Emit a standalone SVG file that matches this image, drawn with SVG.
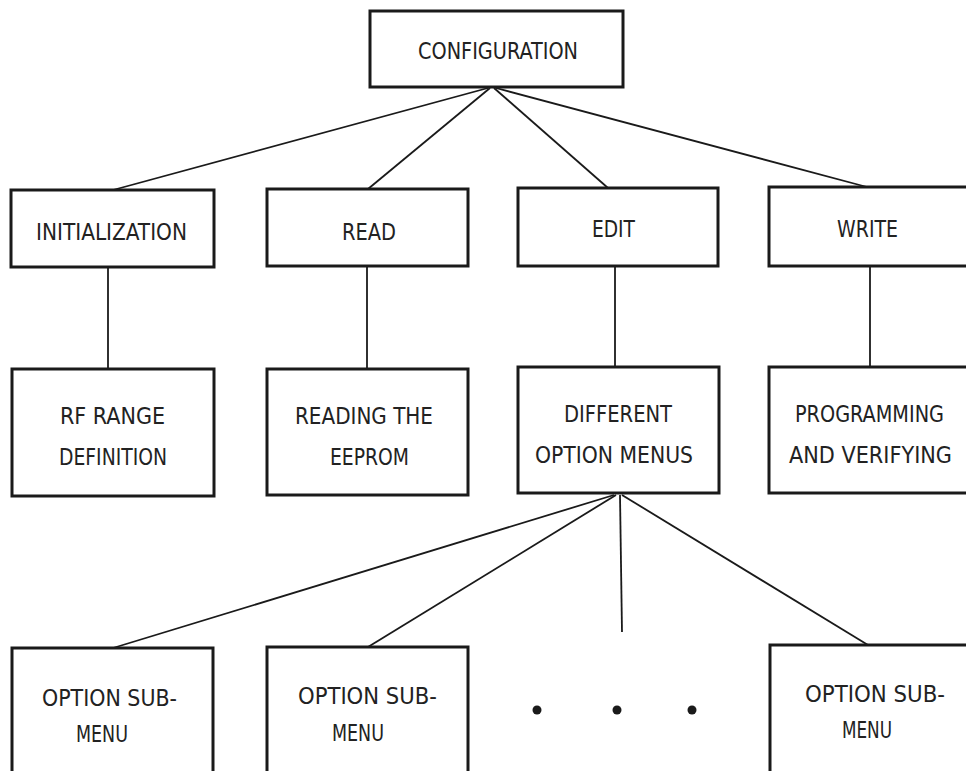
<svg xmlns="http://www.w3.org/2000/svg" width="966" height="771" viewBox="0 0 966 771">
<style>
.box{fill:#fff;stroke:#1a1a1a;stroke-width:3}
.ln{stroke:#1a1a1a;stroke-width:1.8;fill:none}
text{font-family:"DejaVu Sans Condensed","DejaVu Sans",sans-serif;font-size:23px;fill:#222;}
.dot{fill:#1a1a1a}
</style>
<rect width="966" height="771" fill="#fff"/>
<g id="connectors">
<line class="ln" x1="488" y1="88" x2="113" y2="190"/>
<line class="ln" x1="490" y1="88" x2="368" y2="189"/>
<line class="ln" x1="494" y1="88" x2="608" y2="188"/>
<line class="ln" x1="496" y1="88" x2="867" y2="187"/>
<line class="ln" x1="108" y1="267" x2="108" y2="369"/>
<line class="ln" x1="367" y1="266" x2="367" y2="369"/>
<line class="ln" x1="615" y1="266" x2="615" y2="367"/>
<line class="ln" x1="870" y1="266" x2="870" y2="367"/>
<line class="ln" x1="614" y1="495" x2="113" y2="648"/>
<line class="ln" x1="616" y1="495" x2="368" y2="647"/>
<line class="ln" x1="620" y1="495" x2="622" y2="632"/>
<line class="ln" x1="622" y1="495" x2="868" y2="645"/>
</g>
<g id="configuration"><rect class="box" x="370" y="11" width="253" height="76"/><text x="418" y="59" textLength="160" lengthAdjust="spacingAndGlyphs">CONFIGURATION</text></g>
<g id="initialization"><rect class="box" x="11" y="190" width="203" height="77"/><text x="36" y="240" textLength="151" lengthAdjust="spacingAndGlyphs">INITIALIZATION</text></g>
<g id="read"><rect class="box" x="267" y="189" width="201" height="77"/><text x="342" y="240" textLength="54" lengthAdjust="spacingAndGlyphs">READ</text></g>
<g id="edit"><rect class="box" x="518" y="188" width="200" height="78"/><text x="592" y="237" textLength="43" lengthAdjust="spacingAndGlyphs">EDIT</text></g>
<g id="write"><rect class="box" x="769" y="187" width="200" height="79"/><text x="837" y="237" textLength="61" lengthAdjust="spacingAndGlyphs">WRITE</text></g>
<g id="rf-range"><rect class="box" x="12" y="369" width="202" height="127"/><text x="60" y="424" textLength="105" lengthAdjust="spacingAndGlyphs">RF RANGE</text><text x="59" y="465" textLength="108" lengthAdjust="spacingAndGlyphs">DEFINITION</text></g>
<g id="reading"><rect class="box" x="267" y="369" width="201" height="126"/><text x="295" y="424" textLength="138" lengthAdjust="spacingAndGlyphs">READING THE</text><text x="330" y="465" textLength="79" lengthAdjust="spacingAndGlyphs">EEPROM</text></g>
<g id="different"><rect class="box" x="518" y="367" width="201" height="126"/><text x="564" y="422" textLength="108" lengthAdjust="spacingAndGlyphs">DIFFERENT</text><text x="535" y="463" textLength="158" lengthAdjust="spacingAndGlyphs">OPTION MENUS</text></g>
<g id="programming"><rect class="box" x="769" y="367" width="200" height="126"/><text x="795" y="422" textLength="149" lengthAdjust="spacingAndGlyphs">PROGRAMMING</text><text x="789" y="463" textLength="163" lengthAdjust="spacingAndGlyphs">AND VERIFYING</text></g>
<g id="submenu1"><rect class="box" x="12" y="648" width="201" height="130"/><text x="42" y="706" textLength="135" lengthAdjust="spacingAndGlyphs">OPTION SUB-</text><text x="76" y="742" textLength="52" lengthAdjust="spacingAndGlyphs">MENU</text></g>
<g id="submenu2"><rect class="box" x="267" y="647" width="201" height="130"/><text x="298" y="704" textLength="139" lengthAdjust="spacingAndGlyphs">OPTION SUB-</text><text x="332" y="741" textLength="52" lengthAdjust="spacingAndGlyphs">MENU</text></g>
<g id="ellipsis"><circle class="dot" cx="537" cy="710" r="4.5"/><circle class="dot" cx="617" cy="710" r="4.5"/><circle class="dot" cx="692" cy="710" r="4.5"/></g>
<g id="submenu3"><rect class="box" x="770" y="645" width="200" height="132"/><text x="805" y="702" textLength="140" lengthAdjust="spacingAndGlyphs">OPTION SUB-</text><text x="842" y="738" textLength="50" lengthAdjust="spacingAndGlyphs">MENU</text></g>
</svg>
